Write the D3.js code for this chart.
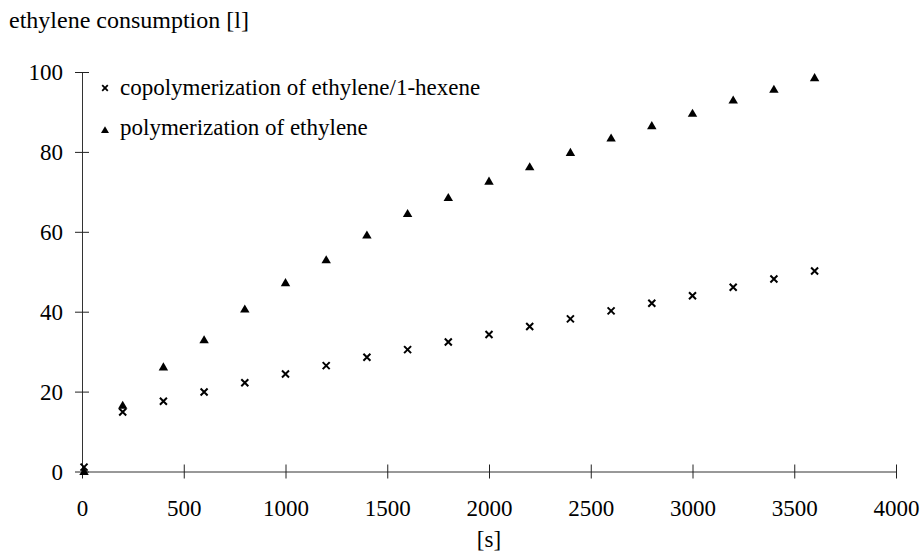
<!DOCTYPE html>
<html>
<head>
<meta charset="utf-8">
<script src="https://cdn.jsdelivr.net/npm/d3@7"></script>
<style>
  body { margin: 0; background: #fff; }
  svg text { font-family: "Liberation Serif", "DejaVu Serif", serif; }
</style>
</head>
<body>
<div id="chart-area"></div>
<script>
// time [s]
const times = [10, 200, 400, 600, 800, 1000, 1200, 1400, 1600, 1800, 2000, 2200, 2400, 2600, 2800, 3000, 3200, 3400, 3600];
// ethylene consumption [l]
const copolymer = [1.1, 14.9, 17.6, 19.9, 22.2, 24.4, 26.5, 28.6, 30.5, 32.4, 34.3, 36.3, 38.2, 40.2, 42.1, 44, 46.1, 48.2, 50.2];
const homopolymer = [0, 16.6, 26.2, 33, 40.7, 47.3, 53, 59.2, 64.6, 68.6, 72.7, 76.3, 79.9, 83.5, 86.6, 89.7, 93, 95.7, 98.6];
const xTicks = [0, 500, 1000, 1500, 2000, 2500, 3000, 3500, 4000];
const yTicks = [0, 20, 40, 60, 80, 100];
const legendLabels = ["copolymerization of ethylene/1-hexene", "polymerization of ethylene"];

let w = 920;
let h = 554;

let svg = d3.select("#chart-area")
    .append("svg")
    .attr("width", w)
    .attr("height", h);

let xScale = d3.scaleLinear().domain([0, 4000]).range([82, 896]);
let yScale = d3.scaleLinear().domain([0, 100]).range([471.5, 72]);

// axes, ticks cross the axis line
let xAxis = d3.axisBottom(xScale).tickValues(xTicks).tickSizeOuter(0).tickFormat(d3.format("d"));
let gx = svg.append("g")
    .attr("transform", "translate(0," + yScale(0) + ")")
    .call(xAxis);
gx.select(".domain").attr("stroke", "#333");
gx.selectAll(".tick line").attr("y1", -7).attr("y2", 7).attr("stroke", "#222");
gx.selectAll(".tick text")
    .attr("y", 44)
    .attr("dy", 0)
    .attr("font-size", 23)
    .attr("fill", "#000");

let yAxis = d3.axisLeft(yScale).tickValues(yTicks).tickSizeOuter(0);
let gy = svg.append("g")
    .attr("transform", "translate(" + xScale(0) + ",0)")
    .call(yAxis);
gy.select(".domain").attr("stroke", "#333");
gy.selectAll(".tick line").attr("x1", -7).attr("x2", 7).attr("stroke", "#222");
gy.selectAll(".tick text")
    .attr("x", -19)
    .attr("dy", "0.34em")
    .attr("font-size", 23)
    .attr("fill", "#000");

// axis titles
svg.append("text")
    .attr("x", 9)
    .attr("y", 28)
    .attr("font-size", 24)
    .text("ethylene consumption [l]");

svg.append("text")
    .attr("x", xScale(2000))
    .attr("y", 547)
    .attr("text-anchor", "middle")
    .attr("font-size", 23)
    .text("[s]");

let crossPath = (s) => "M" + (-s) + "," + (-s) + "L" + s + "," + s + "M" + (-s) + "," + s + "L" + s + "," + (-s);
let triPath = (s) => "M0," + (-s) + "L" + (s * 1.05) + "," + (s * 0.8) + "L" + (-s * 1.05) + "," + (s * 0.8) + "Z";

let copData = times.map((t, i) => [t, copolymer[i]]);
let homData = times.map((t, i) => [t, homopolymer[i]]);

svg.selectAll(".hom")
    .data(homData)
    .enter()
    .append("path")
    .attr("class", "hom")
    .attr("transform", (d) => "translate(" + xScale(d[0]) + "," + yScale(d[1]) + ")")
    .attr("d", triPath(4.5))
    .attr("fill", "#000");

svg.selectAll(".cop")
    .data(copData)
    .enter()
    .append("path")
    .attr("class", "cop")
    .attr("transform", (d) => "translate(" + xScale(d[0]) + "," + yScale(d[1]) + ")")
    .attr("d", crossPath(3.5))
    .attr("fill", "none")
    .attr("stroke", "#000")
    .attr("stroke-width", 2);

// legend
let legend = svg.append("g");
legend.append("path")
    .attr("transform", "translate(105,88)")
    .attr("d", crossPath(2.8))
    .attr("stroke", "#000")
    .attr("stroke-width", 1.8);
legend.append("path")
    .attr("transform", "translate(105,130)")
    .attr("d", triPath(3.8))
    .attr("fill", "#000");
legend.selectAll("text")
    .data(legendLabels)
    .enter()
    .append("text")
    .attr("x", 120)
    .attr("y", (d, i) => 95 + i * 40)
    .attr("font-size", 23)
    .text((d) => d);
</script>
</body>
</html>
